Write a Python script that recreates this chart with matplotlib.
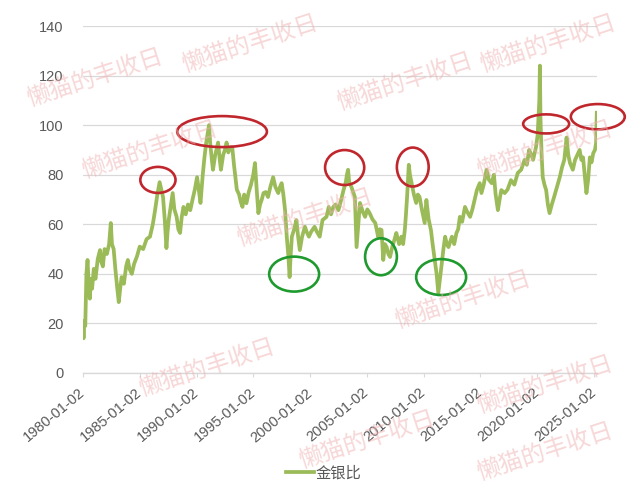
import matplotlib
matplotlib.use('Agg')
import matplotlib.pyplot as plt
from matplotlib.patches import Ellipse

plt.rcParams['font.family'] = ['Liberation Sans', 'Noto Sans CJK SC', 'DejaVu Sans']

# gold / silver ratio (decimal year, ratio)
years = [
    1980.00, 1980.05, 1980.12, 1980.20, 1980.30, 1980.40, 1980.50, 1980.60, 1980.70, 1980.80,
    1980.95, 1981.10, 1981.30, 1981.50, 1981.60, 1981.75, 1981.90, 1982.10, 1982.30, 1982.45,
    1982.55, 1982.70, 1982.85, 1983.00, 1983.15, 1983.30, 1983.40, 1983.60, 1983.80, 1983.95,
    1984.10, 1984.30, 1984.50, 1984.75, 1985.00, 1985.30, 1985.60, 1985.90, 1986.15, 1986.35,
    1986.55, 1986.75, 1986.90, 1987.05, 1987.20, 1987.35, 1987.45, 1987.55, 1987.75, 1987.90,
    1988.05, 1988.25, 1988.40, 1988.55, 1988.70, 1988.85, 1989.05, 1989.25, 1989.45, 1989.65,
    1989.85, 1990.05, 1990.20, 1990.35, 1990.55, 1990.70, 1990.85, 1991.00, 1991.10, 1991.20,
    1991.35, 1991.45, 1991.65, 1991.90, 1992.05, 1992.15, 1992.35, 1992.50, 1992.65, 1992.80,
    1992.95, 1993.15, 1993.30, 1993.45, 1993.55, 1993.75, 1993.90, 1994.05, 1994.20, 1994.40,
    1994.60, 1994.80, 1995.00, 1995.15, 1995.30, 1995.45, 1995.60, 1995.75, 1995.90, 1996.10,
    1996.30, 1996.50, 1996.75, 1996.95, 1997.20, 1997.35, 1997.50, 1997.65, 1997.80, 1997.95,
    1998.10, 1998.20, 1998.30, 1998.40, 1998.60, 1998.80, 1998.95, 1999.10, 1999.30, 1999.55,
    1999.70, 1999.90, 2000.10, 2000.40, 2000.60, 2000.85, 2001.10, 2001.45, 2001.65, 2001.85,
    2002.05, 2002.25, 2002.50, 2002.75, 2002.95, 2003.15, 2003.25, 2003.35, 2003.45, 2003.65,
    2003.80, 2003.95, 2004.10, 2004.25, 2004.40, 2004.65, 2004.85, 2005.05, 2005.25, 2005.50,
    2005.75, 2006.00, 2006.15, 2006.30, 2006.45, 2006.60, 2006.75, 2006.90, 2007.05, 2007.25,
    2007.45, 2007.60, 2007.85, 2008.05, 2008.20, 2008.35, 2008.45, 2008.55, 2008.70, 2008.80,
    2008.95, 2009.15, 2009.35, 2009.50, 2009.65, 2009.85, 2010.10, 2010.25, 2010.45, 2010.65,
    2010.80, 2010.95, 2011.15, 2011.30, 2011.45, 2011.60, 2011.75, 2011.90, 2012.05, 2012.20,
    2012.35, 2012.50, 2012.70, 2012.90, 2013.05, 2013.20, 2013.40, 2013.65, 2013.85, 2014.10,
    2014.30, 2014.50, 2014.70, 2014.95, 2015.10, 2015.30, 2015.55, 2015.75, 2016.00, 2016.20,
    2016.35, 2016.55, 2016.70, 2016.85, 2017.15, 2017.40, 2017.70, 2018.00, 2018.30, 2018.60,
    2018.90, 2019.10, 2019.30, 2019.50, 2019.65, 2019.90, 2020.05, 2020.15, 2020.20, 2020.25,
    2020.30, 2020.40, 2020.50, 2020.65, 2020.80, 2020.95, 2021.10, 2021.30, 2021.50, 2021.75,
    2022.00, 2022.20, 2022.40, 2022.60, 2022.75, 2022.90, 2023.15, 2023.35, 2023.55, 2023.75,
    2023.90, 2024.05, 2024.20, 2024.35, 2024.50, 2024.65, 2024.80, 2024.95, 2025.10, 2025.20,
    2025.26,
]
ratio = [
    19, 14, 21, 19, 40, 45.6, 36, 30, 38, 34,
    42, 38, 46, 49.6, 45, 43, 50, 48, 52, 60.5,
    52, 50, 42, 35, 28.6, 35, 38.7, 36, 43, 45.6,
    42, 40, 44, 47, 51, 50, 54, 55, 60, 65.7,
    72, 77, 74, 71, 62, 50.4, 57, 61.7, 68, 72.6,
    66, 63, 58, 56.5, 63, 67, 64, 68, 65.7, 70,
    74, 79, 74, 68.6, 80, 87, 92.8, 97, 100, 93,
    86, 82, 88, 93, 86, 82, 88, 90, 93, 89,
    91, 91, 84, 78, 74, 72, 69, 67, 72, 68.5,
    73, 76, 80, 84.7, 74, 64.5, 68, 70, 72.6, 73,
    71, 75, 79, 75, 72.6, 75, 76.6, 72, 65.7, 55,
    46.8, 38.7, 48, 55, 58, 61.7, 55, 49.6, 55, 59,
    57, 55, 57, 59, 57, 55, 61.7, 63, 67, 64,
    67, 68, 65.7, 70, 73.8, 77, 80, 82, 77, 75,
    73, 71, 50.8, 60, 68.6, 65, 63, 66, 64.5, 62,
    60.5, 55, 58, 57.7, 45.6, 52, 50.8, 48, 46.8, 51,
    54, 56.5, 52, 55, 52, 57.7, 64, 71, 84, 80,
    76.6, 72, 68.6, 72, 71, 66, 60.5, 69.8, 62, 57.7,
    52, 46.8, 40, 32.3, 38, 44, 50, 55, 52, 50.8,
    53, 55, 52, 56.5, 58, 63, 61, 67, 65, 63,
    66, 70, 73.8, 76.6, 72.6, 76, 82, 78, 76.6, 80,
    72, 65.7, 70, 73.8, 72.6, 74, 77.8, 76, 80.7, 82,
    86, 84, 90, 88, 86, 91, 96, 105, 110, 124,
    103, 88, 79, 76, 73.8, 68, 64.5, 68, 71, 75,
    79, 83, 86, 95, 88, 84.7, 82, 86, 88, 90,
    86, 87, 80, 72.6, 78, 87, 85, 88.7, 90, 92.8,
    105,
]

tick_years = [1980, 1985, 1990, 1995, 2000, 2005, 2010, 2015, 2020, 2025]
tick_labels = [f'{y}-01-02' for y in tick_years]
series_name = '金银比'

# highlighted peaks (red) and troughs (green): centre year, centre value, width, height
red_marks = [
    (1986.6, 77.9, 3.1, 10.5),
    (1992.25, 97.4, 7.9, 12.5),
    (2003.05, 82.9, 3.45, 14.1),
    (2009.05, 83.1, 2.8, 15.7),
    (2020.8, 100.5, 4.05, 7.7),
    (2025.35, 103.4, 4.75, 10.2),
]
green_marks = [
    (1998.6, 39.9, 4.4, 14.1),
    (2006.25, 46.9, 2.8, 14.9),
    (2011.55, 38.7, 4.4, 14.5),
]

# watermark centres in pixels, kept inside the picture
watermarks = [(250, 44), (95, 78), (150, 150), (405, 82), (305, 218), (545, 150),
              (548, 44), (207, 368), (463, 300), (367, 440), (545, 385), (545, 452)]

fig = plt.figure(figsize=(6.4, 4.96), dpi=100)
ax = fig.add_axes([83 / 640, 1 - 373 / 496, 514 / 640, 347 / 496])

ax.plot(years, ratio, color='#9BBB59', linewidth=2.7, zorder=3, label=series_name)

for cx, cy, w, h in red_marks:
    ax.add_patch(Ellipse((cx, cy), w, h, fill=False, edgecolor='#C0272D',
                         linewidth=1.9, zorder=4, clip_on=False))
for cx, cy, w, h in green_marks:
    ax.add_patch(Ellipse((cx, cy), w, h, fill=False, edgecolor='#1F9A2E',
                         linewidth=1.9, zorder=4, clip_on=False))

ax.set_xlim(1980.0, 2025.28)
ax.set_ylim(0, 140)
ax.set_yticks(range(0, 141, 20))
ax.set_xticks(tick_years)
ax.set_xticklabels(tick_labels, rotation=40, ha='right', va='center',
                   rotation_mode='anchor')

ax.grid(axis='y', color='#D9D9D9', linewidth=0.9, zorder=0)
for side in ['top', 'right', 'left']:
    ax.spines[side].set_visible(False)
ax.spines['bottom'].set_color('#D9D9D9')
ax.spines['bottom'].set_linewidth(1.0)
ax.tick_params(axis='y', length=0, pad=14, labelsize=10.5, labelcolor='#595959')
ax.tick_params(axis='x', length=3, color='#D9D9D9', pad=10, labelsize=10.5,
               labelcolor='#595959')

fig.legend(loc='center', bbox_to_anchor=(0.506, 0.047), frameon=False,
           handlelength=1.8, handletextpad=0.15, labelcolor='#595959',
           prop={'family': ['Noto Sans CJK SC'], 'size': 11})

for px, py in watermarks:
    fig.text(px / 640, 1 - py / 496, '懒猫的丰收日', rotation=18, ha='center', va='center',
             rotation_mode='anchor', fontsize=17, color='#EFB0B0', alpha=0.5,
             family=['Noto Sans CJK SC'], fontweight='light', zorder=5)

fig.savefig('out.png', dpi=100)
